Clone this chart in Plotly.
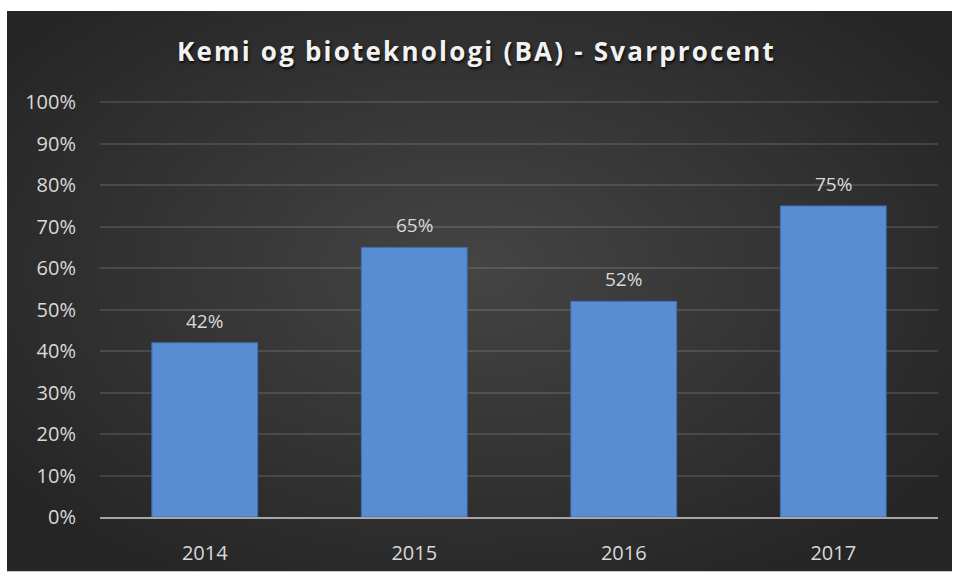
import plotly.graph_objects as go

years = ["2014", "2015", "2016", "2017"]
rates = [0.42, 0.65, 0.52, 0.75]
title_text = "Kemi og bioteknologi (BA) - Svarprocent"

W, H = 953, 578
L, R, T, B = 100, 15, 101, 56
pw, ph = W - L - R, H - T - B
y_top = 1.003


def px_x(x):
    return (x - L) / pw


def px_y(y):
    return (H - B - y) / ph


shapes = []
# dark panel
shapes.append(dict(type="rect", xref="paper", yref="paper",
                   x0=px_x(7), x1=px_x(952), y0=px_y(577), y1=px_y(10),
                   fillcolor="#262626", line=dict(width=0), layer="below"))
# radial glow
cx, cy = 470, 270
n = 30
for i in range(n):
    s = 1 - i / n
    rx, ry = 560 * s, 350 * s
    shapes.append(dict(type="circle", xref="paper", yref="paper",
                       x0=px_x(cx - rx), x1=px_x(cx + rx),
                       y0=px_y(cy + ry), y1=px_y(cy - ry),
                       fillcolor="rgba(255,255,255,0.009)",
                       line=dict(width=0), layer="below"))

fig = go.Figure(go.Bar(
    x=years, y=rates,
    width=0.505,
    marker=dict(color="#588cd3", line=dict(color="#3f70b6", width=1)),
    hoverinfo="skip",
))

# data labels (category axis: position by category index)
annotations = [
    dict(x=i, y=v, xref="x", yref="y", text=f"{round(v * 100)}%",
         showarrow=False, yanchor="bottom", yshift=7,
         font=dict(family="Open Sans", size=19, color="#d9d9d9"))
    for i, v in enumerate(rates)
]

fig.update_layout(
    width=W, height=H,
    margin=dict(l=L, r=R, t=T, b=B),
    paper_bgcolor="white",
    plot_bgcolor="rgba(0,0,0,0)",
    shapes=shapes,
    annotations=annotations,
    showlegend=False,
    title=dict(text="<b>" + title_text + "</b>", x=0.5, xanchor="center",
               y=1 - 52 / H, yanchor="middle",
               font=dict(family="Open Sans", size=26, color="#f2f2f2",
                         shadow="1px 2px 3px rgba(0,0,0,0.8)")),
    font=dict(family="Open Sans", color="#d9d9d9", size=19),
)
fig.update_yaxes(range=[0, y_top], tickvals=[k / 10 for k in range(11)], tickformat=".0%",
                 showgrid=True, gridcolor="rgba(255,255,255,0.12)", gridwidth=1.5,
                 zeroline=False, showline=False,
                 ticks="outside", ticklen=19, tickcolor="rgba(0,0,0,0)",
                 tickfont=dict(family="Open Sans", size=20, color="#d9d9d9"))
fig.update_xaxes(type="category", categoryorder="array", categoryarray=years,
                 range=[-0.5, len(years) - 0.5],
                 showline=True, linecolor="#a6a6a6", linewidth=2,
                 showgrid=False,
                 ticks="outside", ticklen=17, tickcolor="rgba(0,0,0,0)",
                 tickfont=dict(family="Open Sans", size=20, color="#d9d9d9"))

post = """
document.body.style.margin = '0';
document.querySelectorAll('.gtitle').forEach(function(e){ e.style.letterSpacing = '2.2px'; });
"""
fig.write_html("out.html", post_script=post, config={"displayModeBar": False})
